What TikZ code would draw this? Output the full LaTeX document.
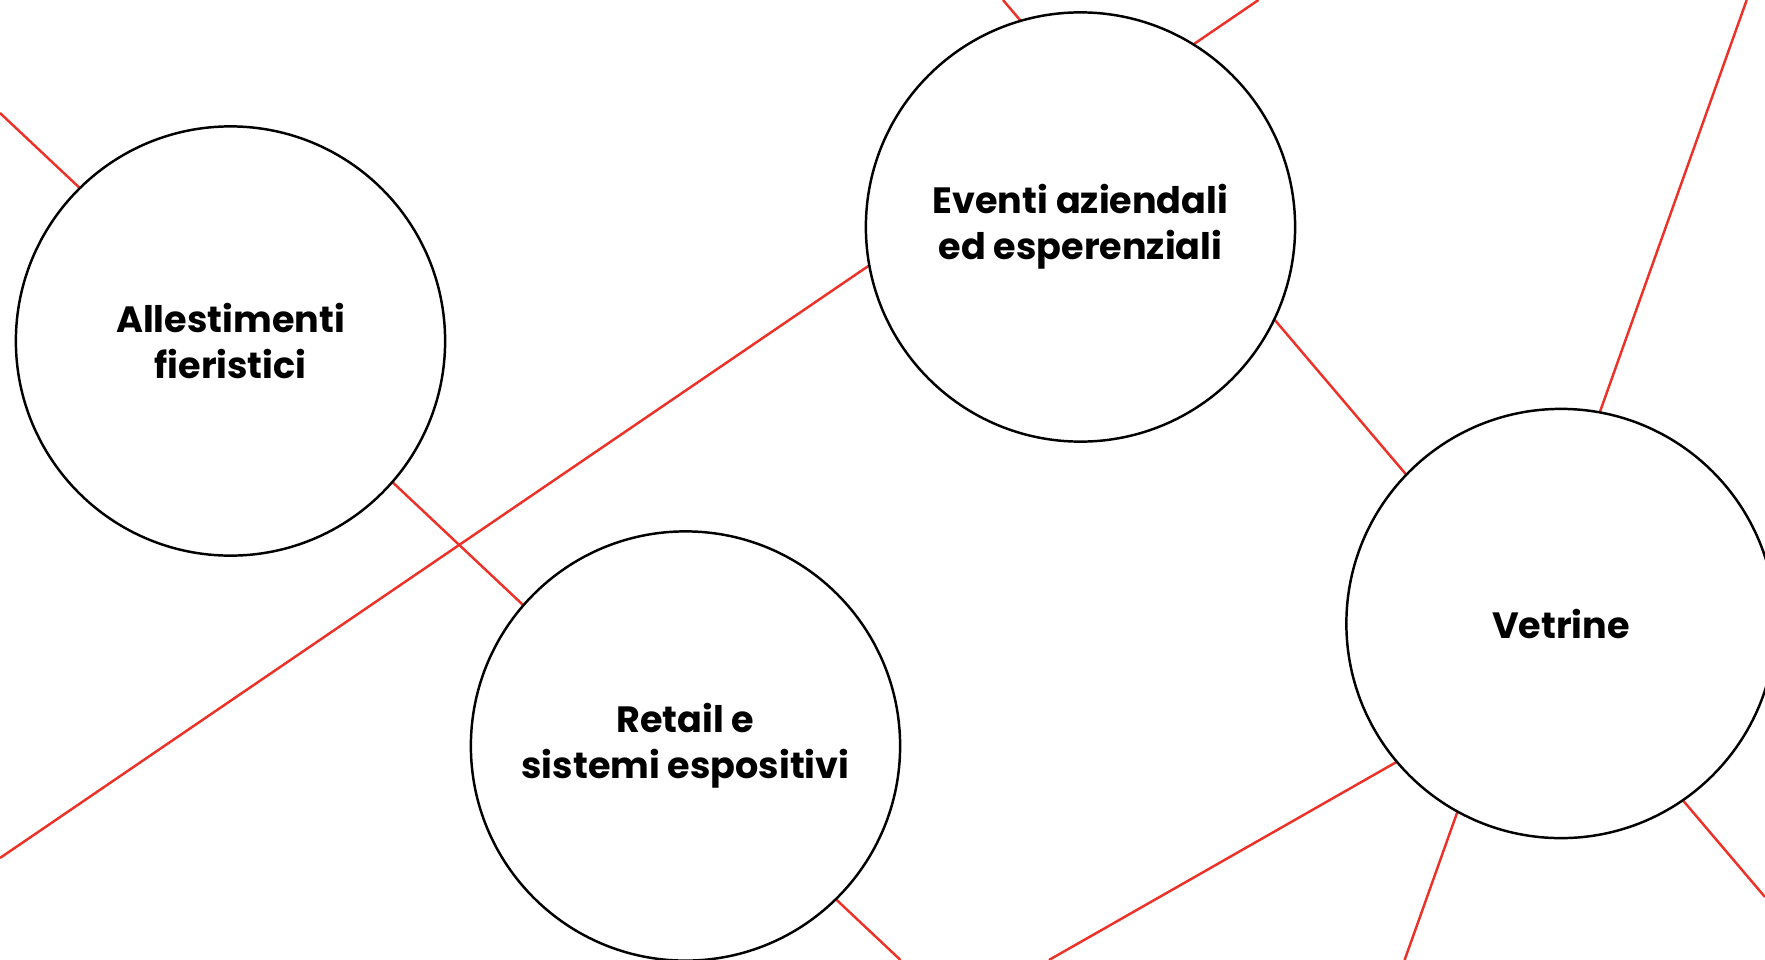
\documentclass[tikz,border=0pt]{standalone}
\usepackage{fontspec}
\setmainfont{Poppins}
\usetikzlibrary{backgrounds}
\definecolor{linered}{RGB}{236,50,40}
\begin{document}
\begin{tikzpicture}[x=0.01cm,y=-0.01cm,
  bubble/.style={circle,draw=black,line width=0.7pt,fill=white,minimum size=4.29cm,inner sep=0pt,align=center,
    font=\fontsize{10.4}{13.1}\selectfont\bfseries},
  link/.style={draw=linered,line width=0.7pt}]
\useasboundingbox (0,0) rectangle (1765,960);
\clip (0,0) rectangle (1765,960);
% circles
\node[bubble] (allest) at (230.5,341) {Allestimenti\\fieristici};
\node[bubble] (eventi) at (1080.5,227) {Eventi aziendali\\ed esperenziali};
\node[bubble] (retail) at (685.5,746) {Retail e\\sistemi espositivi};
\node[bubble] (vetrine) at (1561,623.5) {Vetrine};
% free ends of the connectors
\coordinate (l1a) at (0,113);
\coordinate (l1b) at (900.5,960);
\coordinate (l2a) at (0,858);
\coordinate (l2b) at (1258.5,0);
\coordinate (l3a) at (1003,0);
\coordinate (l3b) at (1765,897);
\coordinate (l4a) at (1746.7,0);
\coordinate (l4b) at (1404.6,960);
\coordinate (l5a) at (1049,960);
\coordinate (l5b) at (1765,552);
\begin{scope}[on background layer]
  \clip (0,0) rectangle (1765,960);
  \draw[link] (l1a) -- (l1b);
  \draw[link] (l2a) -- (l2b);
  \draw[link] (l3a) -- (l3b);
  \draw[link] (l4a) -- (l4b);
  \draw[link] (l5a) -- (l5b);
\end{scope}
\end{tikzpicture}
\end{document}
